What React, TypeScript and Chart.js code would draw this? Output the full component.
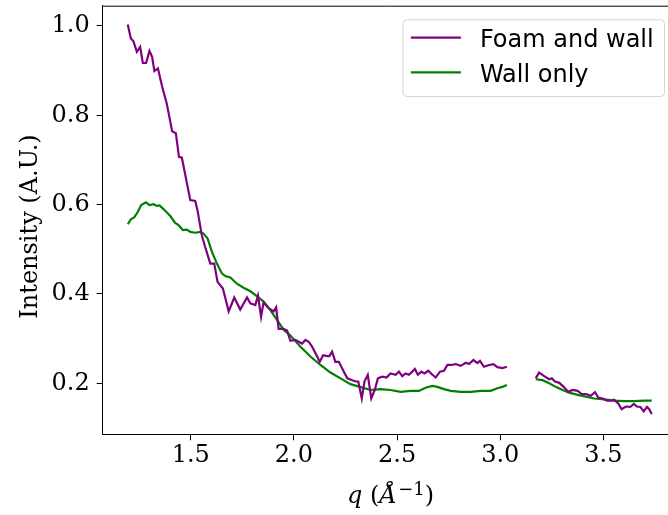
import { useEffect, useRef } from "react";
import { Chart, registerables } from "chart.js";

Chart.register(...registerables);

// ---- data ----
const qFoam = [
  1.195, 1.21, 1.222, 1.239, 1.255, 1.268, 1.284, 1.3, 1.313, 1.324, 1.341, 1.36, 1.384, 1.41, 1.428, 1.443, 1.457,
  1.498, 1.522, 1.533, 1.554, 1.57, 1.595, 1.614, 1.63, 1.656, 1.684, 1.711, 1.74, 1.773, 1.789, 1.813, 1.826, 1.841,
  1.853, 1.878, 1.902, 1.914, 1.926, 1.95, 1.967, 1.983, 2.007, 2.023, 2.04, 2.056, 2.072, 2.088, 2.113, 2.125, 2.142,
  2.161, 2.172, 2.185, 2.201, 2.218, 2.242, 2.259, 2.283, 2.3, 2.312, 2.329, 2.342, 2.358, 2.375, 2.392, 2.407, 2.428,
  2.449, 2.468, 2.493, 2.509, 2.525, 2.541, 2.557, 2.574, 2.586, 2.601, 2.617, 2.633, 2.651, 2.671, 2.687, 2.708, 2.727,
  2.744, 2.763, 2.784, 2.808, 2.833, 2.849, 2.87, 2.889, 2.902, 2.921, 2.946, 2.967, 2.986, 3.011, 3.032, 3.1,
  3.172, 3.188, 3.213, 3.237, 3.25, 3.265, 3.286, 3.307, 3.329, 3.351, 3.375, 3.394, 3.415, 3.439, 3.459, 3.475, 3.496,
  3.517, 3.536, 3.552, 3.572, 3.588, 3.609, 3.63, 3.647, 3.663, 3.679, 3.695, 3.711, 3.722, 3.734,
];
const iFoam = [
  1.003, 0.972, 0.966, 0.942, 0.953, 0.917, 0.917, 0.944, 0.931, 0.899, 0.905, 0.867, 0.826, 0.764, 0.76, 0.707, 0.705,
  0.61, 0.608, 0.587, 0.531, 0.505, 0.468, 0.468, 0.427, 0.412, 0.361, 0.392, 0.365, 0.392, 0.379, 0.375, 0.396, 0.349,
  0.381, 0.368, 0.361, 0.37, 0.322, 0.322, 0.318, 0.295, 0.297, 0.293, 0.289, 0.297, 0.293, 0.282, 0.26, 0.248, 0.263,
  0.261, 0.261, 0.271, 0.248, 0.248, 0.226, 0.211, 0.207, 0.204, 0.204, 0.166, 0.204, 0.219, 0.166, 0.185, 0.211, 0.215,
  0.213, 0.222, 0.219, 0.226, 0.216, 0.222, 0.219, 0.226, 0.232, 0.219, 0.226, 0.222, 0.228, 0.219, 0.213, 0.226, 0.228,
  0.241, 0.241, 0.243, 0.239, 0.246, 0.243, 0.252, 0.245, 0.25, 0.237, 0.241, 0.243, 0.236, 0.234, 0.237, null,
  0.211, 0.224, 0.216, 0.209, 0.211, 0.204, 0.201, 0.192, 0.181, 0.185, 0.183, 0.176, 0.176, 0.172, 0.18, 0.168, 0.166,
  0.161, 0.161, 0.163, 0.155, 0.142, 0.148, 0.147, 0.154, 0.148, 0.147, 0.137, 0.147, 0.142, 0.131,
];
const qWall = [
  1.195, 1.21, 1.227, 1.244, 1.26, 1.283, 1.3, 1.32, 1.336, 1.349, 1.368, 1.4, 1.425, 1.441, 1.462, 1.482, 1.498, 1.522,
  1.546, 1.562, 1.582, 1.603, 1.627, 1.651, 1.667, 1.692, 1.724, 1.756, 1.789, 1.821, 1.853, 1.886, 1.918, 1.95, 1.983,
  2.032, 2.08, 2.129, 2.177, 2.226, 2.274, 2.32, 2.371, 2.42, 2.468, 2.517, 2.565, 2.606, 2.638, 2.671, 2.695, 2.727,
  2.76, 2.808, 2.857, 2.905, 2.953, 2.986, 3.011, 3.032, 3.1,
  3.172, 3.205, 3.237, 3.269, 3.302, 3.334, 3.375, 3.415, 3.455, 3.504, 3.552, 3.601, 3.65, 3.698, 3.734,
];
const iWall = [
  0.556, 0.567, 0.572, 0.584, 0.599, 0.605, 0.599, 0.601, 0.597, 0.598, 0.59, 0.575, 0.559, 0.554, 0.543, 0.544, 0.539,
  0.537, 0.539, 0.535, 0.524, 0.494, 0.468, 0.446, 0.44, 0.437, 0.423, 0.414, 0.406, 0.395, 0.383, 0.364, 0.342, 0.32,
  0.307, 0.282, 0.26, 0.241, 0.224, 0.211, 0.198, 0.192, 0.185, 0.187, 0.185, 0.181, 0.183, 0.183, 0.19, 0.194, 0.192,
  0.187, 0.183, 0.181, 0.181, 0.183, 0.183, 0.189, 0.192, 0.196, null,
  0.209, 0.207, 0.2, 0.192, 0.185, 0.179, 0.174, 0.17, 0.166, 0.164, 0.161, 0.16, 0.16, 0.161, 0.161,
];
const seriesLabels = ["Foam and wall", "Wall only"];
const seriesColors = ["#800080", "#008000"];
const xTickValues = [1.5, 2.0, 2.5, 3.0, 3.5];
const yTickValues = [0.2, 0.4, 0.6, 0.8, 1.0];
const xRange = [1.0735, 3.8565];
const yRange = [0.0858, 1.0453];
const yTitle = "Intensity (A.U.)";

// ---- layout ----
const CANVAS_W = 700;
const CANVAS_H = 515;
const PLOT_LEFT = 102.7;
const PLOT_TOP = 5.7;
const PLOT_BOTTOM = 434.3;
const PLOT_RIGHT = 677;
const FONT_SIZE = 24;
const SERIF = "'DejaVu Serif', serif";
const SANS = "'DejaVu Sans', sans-serif";

const overlayPlugin = {
  id: "overlay",
  afterDraw(chart: any) {
    const ctx: CanvasRenderingContext2D = chart.ctx;
    const ca = chart.chartArea;
    ctx.save();
    // top and right spines
    ctx.strokeStyle = "#000";
    ctx.lineWidth = 1;
    ctx.beginPath();
    ctx.moveTo(ca.left, ca.top + 0.5);
    ctx.lineTo(ca.right, ca.top + 0.5);
    ctx.moveTo(ca.right - 0.5, ca.top);
    ctx.lineTo(ca.right - 0.5, ca.bottom);
    ctx.stroke();

    // legend
    ctx.font = `${FONT_SIZE}px ${SANS}`;
    const textW = Math.max(...seriesLabels.map((l) => ctx.measureText(l).width));
    const padL = 8.4, handle = 50, gap = 19, padR = 10.3;
    const boxW = padL + handle + gap + textW + padR;
    const boxH = 76.7;
    const boxRight = ca.right - 13;
    const boxTop = ca.top + 13.6;
    const boxLeft = boxRight - boxW;
    ctx.beginPath();
    (ctx as any).roundRect(boxLeft + 0.5, boxTop + 0.5, boxW, boxH, 4);
    ctx.fillStyle = "rgba(255,255,255,0.8)";
    ctx.fill();
    ctx.strokeStyle = "rgba(204,204,204,0.8)";
    ctx.lineWidth = 1;
    ctx.stroke();
    chart.data.datasets.forEach((ds: any, i: number) => {
      const cy = boxTop + 18.4 + i * 34.6;
      ctx.strokeStyle = ds.borderColor;
      ctx.lineWidth = 2.2;
      ctx.beginPath();
      ctx.moveTo(boxLeft + padL, cy);
      ctx.lineTo(boxLeft + padL + handle, cy);
      ctx.stroke();
      ctx.fillStyle = "#000";
      ctx.textAlign = "left";
      ctx.textBaseline = "alphabetic";
      ctx.fillText(ds.label, boxLeft + padL + handle + gap, cy + 9.6);
    });

    // y title
    ctx.save();
    ctx.font = `${FONT_SIZE}px ${SERIF}`;
    ctx.fillStyle = "#000";
    ctx.translate(36.7, (ca.top + ca.bottom) / 2 + 6.5);
    ctx.rotate(-Math.PI / 2);
    ctx.textAlign = "center";
    ctx.textBaseline = "alphabetic";
    ctx.fillText(yTitle, 0, 0);
    ctx.restore();

    // x title: q (Å^{-1})
    const pieces = [
      { t: "q", f: `italic ${FONT_SIZE}px ${SERIF}`, dy: 0 },
      { t: " (", f: `${FONT_SIZE}px ${SERIF}`, dy: 0 },
      { t: "Å", f: `italic ${FONT_SIZE}px ${SERIF}`, dy: 0 },
      { t: "\u22121", f: `18px ${SERIF}`, dy: -8 },
      { t: ")", f: `${FONT_SIZE}px ${SERIF}`, dy: 0 },
    ];
    let total = 0;
    const widths = pieces.map((p) => {
      ctx.font = p.f;
      const w = ctx.measureText(p.t).width;
      total += w;
      return w;
    });
    let x = (ca.left + ca.right) / 2 - total / 2;
    const base = 503;
    ctx.textAlign = "left";
    ctx.textBaseline = "alphabetic";
    ctx.fillStyle = "#000";
    pieces.forEach((p, i) => {
      ctx.font = p.f;
      ctx.fillText(p.t, x, base + p.dy);
      x += widths[i] + (i === 2 ? 1.5 : 0);
    });
    ctx.restore();
  },
};

export default function App() {
  const ref = useRef<HTMLCanvasElement | null>(null);
  useEffect(() => {
    if (!ref.current) return;
    const chart = new Chart(ref.current, {
      type: "line",
      data: {
        datasets: [
          {
            label: seriesLabels[0],
            data: qFoam.map((q, i) => ({ x: q, y: iFoam[i] })),
            borderColor: seriesColors[0],
            backgroundColor: seriesColors[0],
            borderWidth: 2.2,
            pointRadius: 0,
            tension: 0,
            spanGaps: false,
            fill: false,
          },
          {
            label: seriesLabels[1],
            data: qWall.map((q, i) => ({ x: q, y: iWall[i] })),
            borderColor: seriesColors[1],
            backgroundColor: seriesColors[1],
            borderWidth: 2.2,
            pointRadius: 0,
            tension: 0,
            spanGaps: false,
            fill: false,
          },
        ],
      },
      options: {
        responsive: false,
        animation: false,
        devicePixelRatio: 1,
        layout: { padding: { top: PLOT_TOP, right: CANVAS_W - PLOT_RIGHT, left: 0, bottom: 0 } },
        plugins: { legend: { display: false }, tooltip: { enabled: false } },
        scales: {
          x: {
            type: "linear",
            min: xRange[0],
            max: xRange[1],
            afterBuildTicks: (s: any) => {
              s.ticks = xTickValues.map((v) => ({ value: v }));
            },
            afterFit: (s: any) => {
              s.height = CANVAS_H - PLOT_BOTTOM;
              s.paddingLeft = 0;
              s.paddingRight = 0;
            },
            grid: { display: true, drawOnChartArea: false, drawTicks: true, tickLength: 6, color: "#000", lineWidth: 1 },
            border: { display: true, color: "#000", width: 1 },
            ticks: {
              autoSkip: false,
              maxRotation: 0,
              minRotation: 0,
              padding: 1,
              color: "#000",
              font: { family: SERIF, size: FONT_SIZE },
              callback: (v: any) => Number(v).toFixed(1),
            },
          },
          y: {
            type: "linear",
            min: yRange[0],
            max: yRange[1],
            afterBuildTicks: (s: any) => {
              s.ticks = yTickValues.map((v) => ({ value: v }));
            },
            afterFit: (s: any) => {
              s.width = PLOT_LEFT;
              s.paddingTop = 0;
              s.paddingBottom = 0;
            },
            grid: { display: true, drawOnChartArea: false, drawTicks: true, tickLength: 6, color: "#000", lineWidth: 1 },
            border: { display: true, color: "#000", width: 1 },
            ticks: {
              autoSkip: false,
              padding: 7,
              color: "#000",
              font: { family: SERIF, size: FONT_SIZE },
              callback: (v: any) => Number(v).toFixed(1),
            },
          },
        },
      },
      plugins: [overlayPlugin],
    });
    return () => chart.destroy();
  }, []);

  return (
    <div
      style={{
        position: "fixed",
        left: 0,
        top: 0,
        width: 668,
        height: 515,
        overflow: "hidden",
        background: "#fff",
      }}
    >
      <canvas ref={ref} width={CANVAS_W} height={CANVAS_H} style={{ display: "block" }} />
    </div>
  );
}
